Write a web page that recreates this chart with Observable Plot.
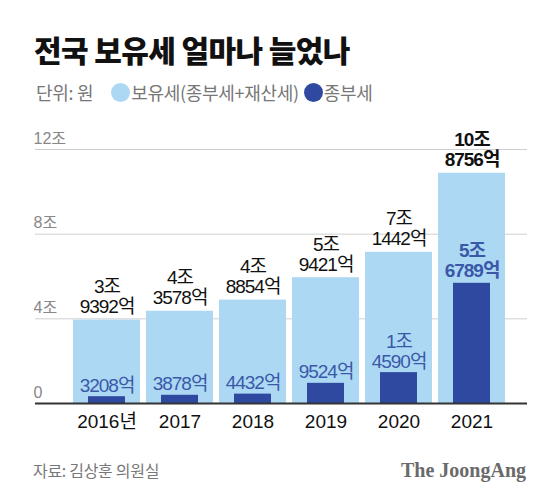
<!DOCTYPE html>
<html><head><meta charset="utf-8">
<script src="https://cdn.jsdelivr.net/npm/d3@7"></script>
<script src="https://cdn.jsdelivr.net/npm/@observablehq/plot@0.6"></script>
<style>
body{margin:0;background:#fff;}
#wrap{position:relative;width:560px;height:495px;overflow:hidden;font-family:"Liberation Sans","Noto Sans CJK KR",sans-serif;}
#title{position:absolute;left:34px;top:32px;font-family:"Noto Sans CJK KR";font-weight:900;font-size:30px;letter-spacing:-0.6px;color:#111;line-height:34px;}
#legend{position:absolute;left:36px;top:81px;font-size:18px;color:#777;line-height:22px;display:flex;align-items:center;font-family:"Noto Sans CJK KR";letter-spacing:-0.3px;}
.dot{display:inline-block;width:19px;height:19px;border-radius:50%;margin-right:1px;}
#chart{position:absolute;left:0;top:110px;}
#src{position:absolute;left:33px;top:459px;font-size:16px;color:#777;font-family:"Noto Sans CJK KR";letter-spacing:-0.3px;line-height:22px;}
#logo{position:absolute;right:34px;top:458px;font-size:20px;color:#6a6a6a;font-family:"Liberation Serif","DejaVu Serif",serif;font-weight:bold;line-height:24px;}
</style></head>
<body>
<div id="wrap">
<div id="title">전국 보유세 얼마나 늘었나</div>
<div id="legend"><span>단위: 원</span><span class="dot" style="background:#acd8f3;margin-left:18px"></span><span>보유세(종부세+재산세)</span><span class="dot" style="background:#3049a0;margin-left:5px"></span><span>종부세</span></div>
<div id="chart"></div>
<div id="src">자료: 김상훈 의원실</div>
<div id="logo">The JoongAng</div>
</div>
<script>
// values in 억원
const years = ["2016", "2017", "2018", "2019", "2020", "2021"];
const totalTax = [39392, 43578, 48854, 59421, 71442, 108756];
const jongbuTax = [3208, 3878, 4432, 9524, 14590, 56789];
const yTicks = [0, 40000, 80000, 120000];

const data = years.map((y, i) => ({year: y, total: totalTax[i], jong: jongbuTax[i]}));
const fmt = v => {
  const jo = Math.floor(v / 10000), eok = v % 10000;
  return jo > 0 ? `${jo}조\n${eok}억` : `${eok}억`;
};
const lightBlue = "#acd8f3", darkBlue = "#3049a0", labelBlue = "#3a58a8";
const labelFont = "'Liberation Sans','Noto Sans CJK KR',sans-serif";

const chart = Plot.plot({
  width: 560,
  height: 330,
  marginLeft: 35,
  marginRight: 33,
  marginTop: 39,
  marginBottom: 37,
  style: {fontFamily: labelFont, background: "transparent"},
  x: {domain: years, range: [70, 508], paddingInner: 0.08, paddingOuter: 0.04, label: null},
  y: {domain: [0, 120000], label: null},
  marks: [
    Plot.gridY(yTicks.slice(1), {stroke: "#cfcfcf", strokeOpacity: 1}),
    Plot.axisY(yTicks, {tickSize: 0, tickPadding: 0, textAnchor: "start", dx: -2, dy: -11, fontSize: 16, fill: "#888",
      tickFormat: d => d === 0 ? "0" : `${d / 10000}조`}),
    Plot.barY(data, {x: "year", y: "total", fill: lightBlue}),
    Plot.barY(data, {x: "year", y: "jong", fill: darkBlue, insetLeft: 15, insetRight: 15}),
    Plot.ruleY([0], {stroke: "#333", strokeWidth: 2}),
    Plot.axisX({tickSize: 0, tickPadding: 11, fontSize: 19, fill: "#111",
      tickFormat: d => d === "2016" ? "2016년" : d}),
    Plot.text(data.filter(d => d.year !== "2021"), {x: "year", y: "total", text: d => fmt(d.total),
      lineAnchor: "bottom", dy: -7, fontSize: 19, fill: "#111", lineHeight: 1.05}),
    Plot.text(data.filter(d => d.year === "2021"), {x: "year", y: "total", text: d => fmt(d.total),
      lineAnchor: "bottom", dy: -7, fontSize: 19, fontWeight: "bold", fill: "#111", lineHeight: 1.05}),
    Plot.text(data.filter(d => d.year !== "2021"), {x: "year", y: "jong", text: d => fmt(d.jong),
      lineAnchor: "bottom", dy: -5, fontSize: 19, fill: labelBlue, lineHeight: 1.05}),
    Plot.text(data.filter(d => d.year === "2021"), {x: "year", y: "jong", text: d => fmt(d.jong),
      lineAnchor: "bottom", dy: -6, fontSize: 19, fontWeight: "bold", fill: labelBlue, lineHeight: 1.05})
  ]
});
chart.querySelectorAll("g[aria-label='text'] text").forEach(t => t.style.letterSpacing = "-1px");
document.getElementById("chart").appendChild(chart);
</script>
</body></html>
